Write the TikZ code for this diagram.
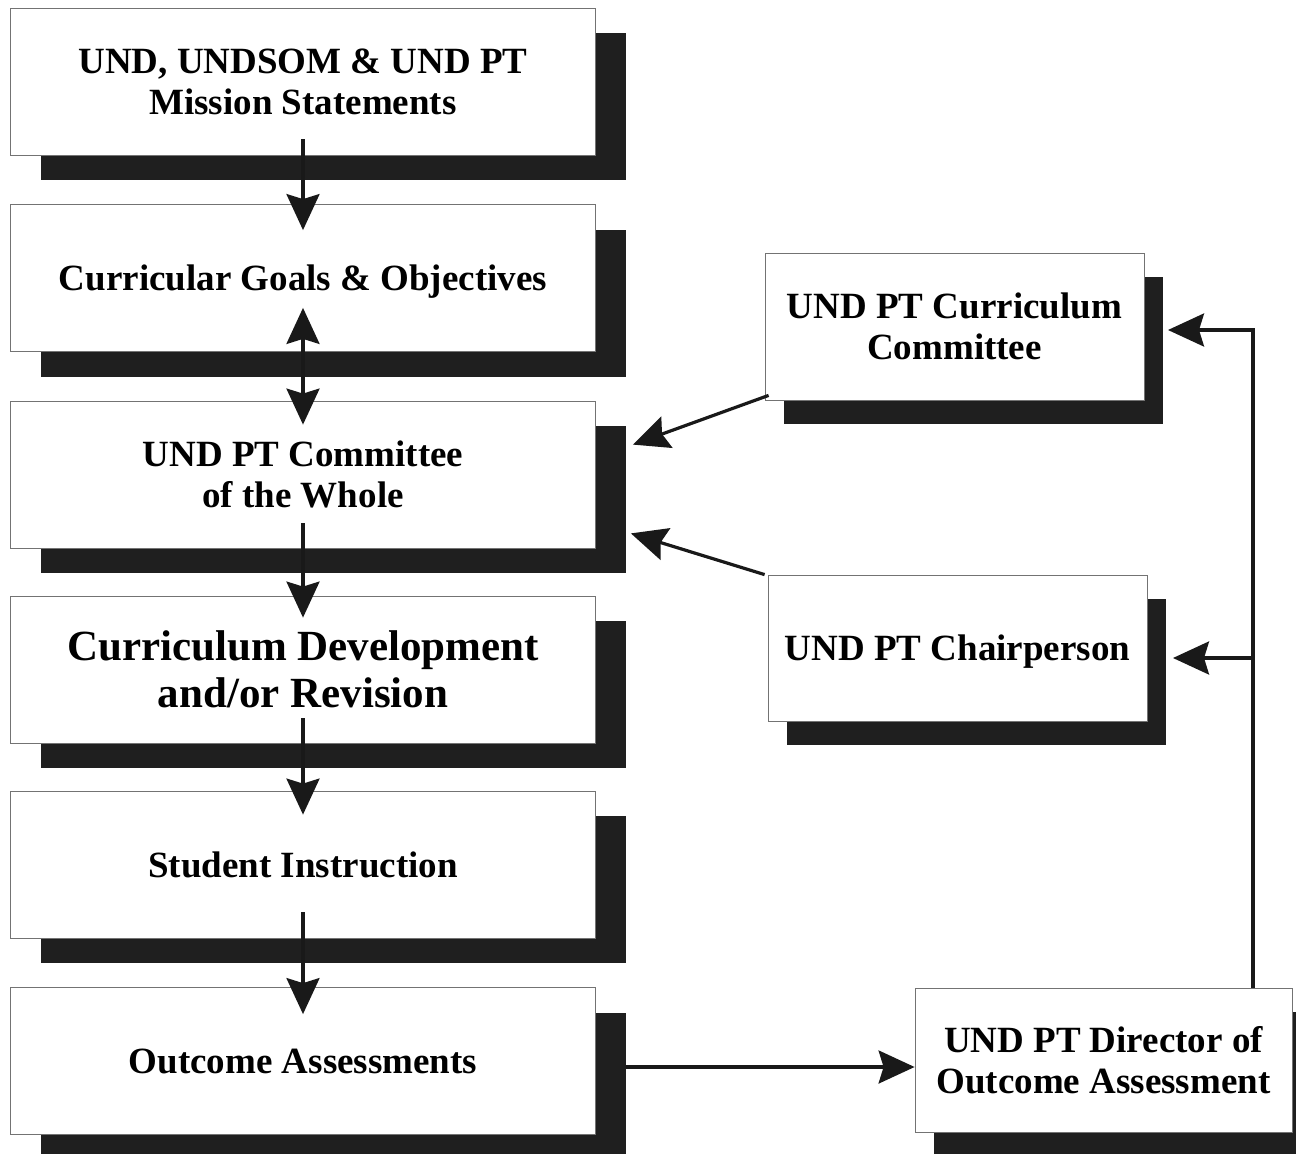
\documentclass[tikz,border=0pt]{standalone}
\usepackage{fontspec}
\setmainfont{Liberation Serif}
\usetikzlibrary{arrows.meta,shadows}
\tikzset{
  boxbase/.style={draw=black!55, line width=0.8pt, fill=white, rectangle, align=center,
    inner sep=0pt, text depth=0pt,
    font=\bfseries\fontsize{37}{41}\selectfont},
  lbox/.style={boxbase, minimum width=585pt, minimum height=147pt,
    drop shadow={shadow xshift=30pt, shadow yshift=-25pt, fill=black!88, opacity=1}},
  rbox/.style={boxbase, minimum width=379pt, minimum height=147pt,
    drop shadow={shadow xshift=19pt, shadow yshift=-24pt, fill=black!88, opacity=1}},
  conn/.style={line width=3.2pt, black!90},
  arr/.style={conn, -{Stealth[length=36pt, width=33pt, inset=5pt]}},
  darr/.style={conn, {Stealth[length=36pt, width=33pt, inset=5pt]}-{Stealth[length=36pt, width=33pt, inset=5pt]}},
}
\begin{document}
\begin{tikzpicture}[x=1pt, y=-1pt]
\useasboundingbox (0,0) rectangle (1296,1154);
\fill[white] (0,0) rectangle (1296,1154);
\clip (0,0) rectangle (1296,1154);

% left column
\node[lbox] (b1) at (303,81.5) {UND, UNDSOM \& UND PT\\Mission Statements};
\node[lbox] (b2) at (303,278) {Curricular Goals \& Objectives};
\node[lbox] (b3) at (303,474.5) {UND PT Committee\\of the Whole};
\node[lbox, font=\bfseries\fontsize{43}{47}\selectfont] (b4) at (303,669.5) {Curriculum Development\\and/or Revision};
\node[lbox] (b5) at (303,864.5) {Student Instruction};
\node[lbox] (b6) at (303,1061) {Outcome Assessments};

% right column
\node[rbox] (cc) at (954.5,326.5) {UND PT Curriculum\\Committee};
\node[rbox, minimum height=146pt] (ch) at (957.5,648) {UND PT Chairperson};
\node[rbox, minimum width=377pt, minimum height=144pt] (dir) at (1103.5,1060) {UND PT Director of\\Outcome Assessment};

% left column connectors
\draw[arr] ([yshift=16pt]b1.south) -- ([yshift=-26pt]b2.north);
\draw[darr] ([yshift=44pt]b2.south) -- ([yshift=-24pt]b3.north);
\draw[arr] ([yshift=25pt]b3.south) -- ([yshift=-22pt]b4.north);
\draw[arr] ([yshift=25pt]b4.south) -- ([yshift=-24pt]b5.north);
\draw[arr] ([yshift=26pt]b5.south) -- ([yshift=-27pt]b6.north);

% right connectors
\draw[arr] ([xshift=4pt,yshift=5pt]cc.south west) -- ([xshift=37pt,yshift=-44pt]b3.north east);
\draw[arr] ([xshift=-3pt]ch.north west) -- ([xshift=35pt,yshift=15pt]b3.south east);
\draw[arr] ([xshift=30pt,yshift=-6pt]b6.east) -- ([yshift=-7pt]dir.west);

\coordinate (vtop) at (1253,330);
\coordinate (vbr) at (1253,658);
\coordinate (cctip) at (1168,330);
\coordinate (chtip) at (1173,658);
\draw[arr, line join=miter] (dir.north -| vtop) -- (vtop) -- (cctip);
\draw[arr] (vbr) -- (chtip);
\end{tikzpicture}
\end{document}
